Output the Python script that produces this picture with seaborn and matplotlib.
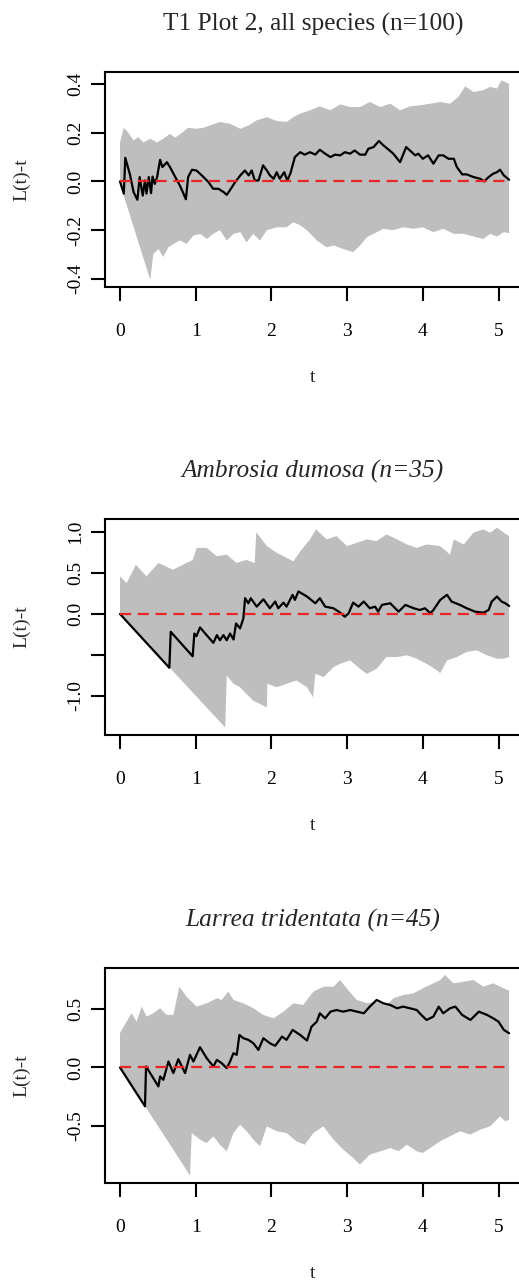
import numpy as np
import pandas as pd
import matplotlib
matplotlib.use('Agg')
import matplotlib.pyplot as plt
import seaborn as sns

# --- datos (t, L(t)-t y envolventes) ---

# Panel 1: T1 Plot 2, todas las especies
t1_obs = [0, 0.05, 0.07, 0.13, 0.18, 0.23, 0.26, 0.30, 0.33, 0.35,
          0.38, 0.41, 0.43, 0.46, 0.49, 0.53, 0.56, 0.62, 0.66, 0.73,
          0.79, 0.83, 0.87, 0.90, 0.95, 1.01, 1.08, 1.17, 1.23, 1.30,
          1.37, 1.41, 1.45, 1.52, 1.59, 1.65, 1.70, 1.74, 1.78, 1.83,
          1.89, 1.94, 1.98, 2.03, 2.07, 2.11, 2.17, 2.21, 2.25, 2.31,
          2.38, 2.44, 2.51, 2.58, 2.64, 2.71, 2.78, 2.84, 2.91, 2.97,
          3.04, 3.10, 3.17, 3.24, 3.28, 3.35, 3.42, 3.48, 3.55, 3.61,
          3.70, 3.78, 3.83, 3.90, 3.94, 4.00, 4.07, 4.14, 4.21, 4.27,
          4.34, 4.41, 4.45, 4.52, 4.58, 4.67, 4.76, 4.81, 4.87, 4.93,
          4.98, 5.02, 5.07, 5.14]
v1_obs = [0, -0.05, 0.097, 0.03, -0.044, -0.075, 0.018, -0.058, 0.004, -0.05,
          0.018, -0.048, 0.02, -0.01, 0.018, 0.089, 0.059, 0.079, 0.059, 0.018,
          -0.016, -0.044, -0.073, 0.018, 0.048, 0.045, 0.025, -0.003, -0.03, -0.03,
          -0.044, -0.055, -0.037, -0.003, 0.025, 0.045, 0.025, 0.045, 0.004, 0.004,
          0.066, 0.045, 0.025, 0.011, 0.038, 0.011, 0.038, 0.004, 0.032, 0.10,
          0.12, 0.11, 0.12, 0.11, 0.13, 0.114, 0.10, 0.11, 0.107, 0.12,
          0.114, 0.127, 0.11, 0.11, 0.134, 0.141, 0.166, 0.148, 0.13, 0.114,
          0.079, 0.141, 0.127, 0.107, 0.114, 0.093, 0.107, 0.073, 0.107, 0.107,
          0.093, 0.093, 0.059, 0.029, 0.029, 0.018, 0.011, 0.0, 0.018, 0.032,
          0.038, 0.048, 0.025, 0.007]
t1_hi = [0, 0.05, 0.11, 0.18, 0.24, 0.31, 0.40, 0.49, 0.57, 0.66,
         0.73, 0.82, 0.90, 1.01, 1.10, 1.19, 1.32, 1.45, 1.59, 1.70,
         1.80, 1.94, 2.07, 2.20, 2.29, 2.38, 2.51, 2.64, 2.78, 2.91,
         3.04, 3.17, 3.30, 3.44, 3.57, 3.70, 3.83, 3.96, 4.10, 4.23,
         4.36, 4.47, 4.56, 4.67, 4.80, 4.89, 4.98, 5.04, 5.14]
v1_hi = [0.16, 0.22, 0.20, 0.168, 0.182, 0.16, 0.175, 0.16, 0.175, 0.195,
         0.18, 0.20, 0.22, 0.216, 0.22, 0.23, 0.244, 0.237, 0.216, 0.23,
         0.25, 0.264, 0.248, 0.244, 0.264, 0.278, 0.292, 0.308, 0.292, 0.316,
         0.305, 0.305, 0.326, 0.305, 0.319, 0.292, 0.308, 0.312, 0.319, 0.326,
         0.319, 0.347, 0.39, 0.367, 0.374, 0.388, 0.381, 0.415, 0.40]
t1_lo = [0, 0.40, 0.44, 0.51, 0.57, 0.64, 0.71, 0.79, 0.88, 0.97,
         1.06, 1.15, 1.23, 1.32, 1.41, 1.50, 1.59, 1.67, 1.76, 1.85,
         1.94, 2.07, 2.20, 2.29, 2.38, 2.47, 2.60, 2.73, 2.82, 2.95,
         3.08, 3.17, 3.26, 3.35, 3.48, 3.61, 3.74, 3.88, 4.00, 4.14,
         4.27, 4.41, 4.54, 4.67, 4.80, 4.89, 4.98, 5.07, 5.14]
v1_lo = [-0.01, -0.404, -0.297, -0.277, -0.31, -0.27, -0.256, -0.242, -0.256, -0.222,
         -0.215, -0.236, -0.215, -0.20, -0.242, -0.215, -0.208, -0.25, -0.215, -0.242,
         -0.20, -0.188, -0.188, -0.167, -0.18, -0.20, -0.242, -0.27, -0.263, -0.277,
         -0.29, -0.263, -0.229, -0.215, -0.194, -0.20, -0.188, -0.194, -0.188, -0.208,
         -0.194, -0.215, -0.215, -0.226, -0.236, -0.215, -0.226, -0.208, -0.212]

# Panel 2: Ambrosia dumosa
t2_obs = [0, 0.652, 0.67, 0.96, 0.982, 1.01, 1.057, 1.233, 1.28, 1.32,
          1.366, 1.41, 1.454, 1.50, 1.533, 1.586, 1.63, 1.652, 1.696, 1.727,
          1.806, 1.894, 1.98, 2.05, 2.09, 2.16, 2.20, 2.28, 2.31, 2.357,
          2.47, 2.58, 2.64, 2.71, 2.82, 2.91, 2.97, 3.02, 3.08, 3.15,
          3.22, 3.30, 3.37, 3.41, 3.46, 3.57, 3.68, 3.77, 3.88, 3.96,
          4.03, 4.10, 4.14, 4.23, 4.32, 4.38, 4.49, 4.58, 4.69, 4.80,
          4.87, 4.91, 4.98, 5.04, 5.09, 5.14]
v2_obs = [0, -0.656, -0.217, -0.516, -0.238, -0.27, -0.164, -0.352, -0.258, -0.32,
          -0.258, -0.32, -0.238, -0.311, -0.115, -0.176, -0.053, 0.193, 0.131, 0.193,
          0.09, 0.18, 0.07, 0.152, 0.07, 0.139, 0.09, 0.234, 0.172, 0.275,
          0.213, 0.131, 0.193, 0.09, 0.07, 0.016, -0.033, 0.008, 0.139, 0.09,
          0.152, 0.07, 0.09, 0.029, 0.111, 0.131, 0.029, 0.111, 0.07, 0.049,
          0.07, 0.008, 0.049, 0.172, 0.234, 0.152, 0.111, 0.07, 0.029, 0.016,
          0.049, 0.152, 0.213, 0.152, 0.131, 0.098]
t2_hi = [0, 0.088, 0.21, 0.35, 0.507, 0.70, 0.88, 0.96, 1.013, 1.145,
         1.28, 1.41, 1.54, 1.67, 1.78, 1.80, 1.94, 2.07, 2.16, 2.29,
         2.40, 2.51, 2.59, 2.73, 2.86, 3.00, 3.13, 3.26, 3.39, 3.52,
         3.66, 3.79, 3.92, 4.05, 4.23, 4.36, 4.41, 4.54, 4.67, 4.80,
         4.89, 4.98, 5.07, 5.14]
v2_hi = [0.459, 0.377, 0.60, 0.46, 0.623, 0.54, 0.623, 0.66, 0.807, 0.807,
         0.705, 0.725, 0.623, 0.66, 0.62, 1.0, 0.828, 0.746, 0.705, 0.643,
         0.787, 0.91, 1.033, 0.91, 0.951, 0.828, 0.869, 0.91, 0.889, 0.971,
         0.91, 0.848, 0.807, 0.848, 0.828, 0.725, 0.91, 0.848, 0.992, 1.033,
         0.992, 1.053, 0.992, 0.951]
t2_lo = [0, 1.39, 1.41, 1.50, 1.586, 1.67, 1.76, 1.94, 1.947, 2.07,
         2.20, 2.33, 2.47, 2.55, 2.58, 2.69, 2.82, 2.91, 3.04, 3.17,
         3.26, 3.39, 3.52, 3.66, 3.79, 3.92, 4.05, 4.19, 4.23, 4.32,
         4.45, 4.58, 4.71, 4.85, 4.98, 5.07, 5.14]
v2_lo = [0, -1.385, -0.75, -0.852, -0.893, -0.975, -1.057, -1.139, -0.852, -0.893,
         -0.852, -0.811, -0.893, -1.016, -0.73, -0.77, -0.648, -0.607, -0.566, -0.668,
         -0.73, -0.668, -0.525, -0.525, -0.504, -0.545, -0.607, -0.689, -0.721, -0.566,
         -0.525, -0.463, -0.443, -0.504, -0.545, -0.545, -0.525]

# Panel 3: Larrea tridentata
t3_obs = [0, 0.33, 0.344, 0.507, 0.53, 0.573, 0.64, 0.705, 0.77, 0.86,
          0.925, 0.97, 1.057, 1.145, 1.233, 1.28, 1.343, 1.41, 1.454, 1.498,
          1.542, 1.577, 1.63, 1.696, 1.762, 1.828, 1.894, 1.98, 2.05, 2.14,
          2.20, 2.28, 2.38, 2.47, 2.53, 2.60, 2.64, 2.71, 2.78, 2.86,
          2.95, 3.04, 3.13, 3.22, 3.30, 3.39, 3.48, 3.57, 3.66, 3.74,
          3.83, 3.92, 3.98, 4.05, 4.14, 4.21, 4.27, 4.36, 4.43, 4.52,
          4.63, 4.74, 4.85, 4.93, 5.00, 5.07, 5.14]
v3_obs = [0, -0.332, 0.009, -0.162, -0.077, -0.105, 0.051, -0.048, 0.071, -0.048,
          0.108, 0.051, 0.173, 0.08, 0.009, 0.065, 0.037, -0.006, 0.051, 0.122,
          0.108, 0.278, 0.25, 0.236, 0.207, 0.15, 0.25, 0.207, 0.185, 0.264,
          0.236, 0.321, 0.278, 0.23, 0.349, 0.392, 0.463, 0.42, 0.477, 0.491,
          0.477, 0.491, 0.477, 0.463, 0.52, 0.577, 0.548, 0.534, 0.506, 0.52,
          0.506, 0.491, 0.449, 0.406, 0.435, 0.52, 0.463, 0.506, 0.52, 0.449,
          0.406, 0.477, 0.449, 0.42, 0.392, 0.321, 0.293]
t3_hi = [0, 0.035, 0.088, 0.154, 0.22, 0.286, 0.352, 0.44, 0.53, 0.617,
         0.705, 0.784, 0.88, 1.013, 1.145, 1.28, 1.344, 1.43, 1.50, 1.63,
         1.762, 1.894, 2.026, 2.16, 2.29, 2.42, 2.555, 2.687, 2.82, 2.907,
         2.995, 3.128, 3.26, 3.39, 3.52, 3.61, 3.74, 3.876, 4.0, 4.14,
         4.23, 4.295, 4.405, 4.537, 4.67, 4.80, 4.93, 5.07, 5.14]
v3_hi = [0.293, 0.335, 0.392, 0.463, 0.392, 0.52, 0.435, 0.463, 0.506, 0.449,
         0.449, 0.69, 0.605, 0.52, 0.548, 0.591, 0.577, 0.648, 0.577, 0.548,
         0.506, 0.449, 0.42, 0.477, 0.548, 0.534, 0.648, 0.69, 0.69, 0.747,
         0.676, 0.577, 0.55, 0.56, 0.53, 0.59, 0.619, 0.634, 0.676, 0.719,
         0.747, 0.79, 0.719, 0.733, 0.747, 0.69, 0.719, 0.676, 0.656]
t3_lo = [0, 0.925, 0.947, 1.057, 1.145, 1.233, 1.32, 1.41, 1.498, 1.586,
         1.674, 1.762, 1.85, 1.94, 2.07, 2.20, 2.33, 2.44, 2.555, 2.687,
         2.82, 2.95, 3.08, 3.17, 3.30, 3.44, 3.57, 3.68, 3.79, 3.92,
         4.0, 4.10, 4.23, 4.36, 4.493, 4.626, 4.76, 4.89, 5.02, 5.09, 5.14]
v3_lo = [0, -0.923, -0.56, -0.616, -0.645, -0.588, -0.66, -0.716, -0.56, -0.489,
         -0.545, -0.616, -0.673, -0.503, -0.545, -0.56, -0.63, -0.66, -0.56, -0.503,
         -0.616, -0.702, -0.773, -0.83, -0.744, -0.716, -0.688, -0.716, -0.66, -0.716,
         -0.73, -0.688, -0.63, -0.588, -0.545, -0.574, -0.531, -0.503, -0.418, -0.46, -0.446]

titulos = ['T1 Plot 2, all species (n=100)', 'Ambrosia dumosa (n=35)', 'Larrea tridentata (n=45)']
xticks = [0, 1, 2, 3, 4, 5]
yticks = [[-0.4, -0.2, 0.0, 0.2, 0.4], [-1.0, -0.5, 0.0, 0.5, 1.0], [-0.5, 0.0, 0.5]]
yticklabels = [['-0.4', '-0.2', '0.0', '0.2', '0.4'], ['-1.0', '', '0.0', '0.5', '1.0'], ['-0.5', '0.0', '0.5']]

sns.set_style('ticks')
plt.rcParams['font.family'] = ['Liberation Serif', 'DejaVu Serif']

W, H = 519, 1284
fig = plt.figure(figsize=(W / 100, H / 100), dpi=100)

# cajas de los paneles en pixeles (arriba, abajo) y limites en y
cajas = [(72, 287), (519, 735), (968, 1183)]
ylims = [(-0.433, 0.449), (-1.476, 1.159), (-0.987, 0.85)]
estilos = ['normal', 'italic', 'italic']
series = [(t1_obs, v1_obs, t1_hi, v1_hi, t1_lo, v1_lo),
          (t2_obs, v2_obs, t2_hi, v2_hi, t2_lo, v2_lo),
          (t3_obs, v3_obs, t3_hi, v3_hi, t3_lo, v3_lo)]

px_por_t = 75.7  # px por unidad de t, t=0 en x=120


def panel(i):
    top, bot = cajas[i]
    t_obs, v_obs, t_hi, v_hi, t_lo, v_lo = series[i]
    ax = fig.add_axes([105 / W, 1 - bot / H, 420 / W, (bot - top) / H])

    # banda de simulacion (gris)
    xs = np.concatenate([t_hi, t_lo[::-1]])
    ys = np.concatenate([v_hi, v_lo[::-1]])
    ax.fill(xs, ys, color='#bebebe', lw=0, zorder=1)

    df = pd.DataFrame({'t': t_obs, 'L': v_obs})
    sns.lineplot(data=df, x='t', y='L', ax=ax, color='black', lw=1.6,
                 estimator=None, sort=False, zorder=3)
    sns.lineplot(x=[t_obs[0], t_obs[-1]], y=[0, 0], ax=ax, color='#e8262a',
                 lw=1.6, estimator=None, zorder=4)
    ax.lines[-1].set_linestyle((0, (5, 3)))

    ax.set_xlim(-15 / px_por_t, 405 / px_por_t)
    ax.set_ylim(*ylims[i])
    ax.set_xticks(xticks)
    ax.set_xticklabels([str(x) for x in xticks])
    ax.set_yticks(yticks[i])
    ax.set_yticklabels(yticklabels[i], rotation=90, va='center')
    ax.set_xlabel('')
    ax.set_ylabel('')
    for s in ax.spines.values():
        s.set_visible(True)
        s.set_linewidth(1.5)
        s.set_color('black')
    ax.tick_params(direction='out', length=10, width=1.5, labelsize=14,
                   colors='black', bottom=True, left=True)
    ax.tick_params(axis='x', pad=16)
    ax.tick_params(axis='y', pad=5)

    fig.text(313 / W, 1 - (top - 41.5) / H, titulos[i], ha='center', va='baseline',
             fontsize=18.3, style=estilos[i])
    fig.text(313 / W, 1 - (bot + 95) / H, 't', ha='center', va='baseline', fontsize=14)
    fig.text(22 / W, 1 - (top + bot) / 2 / H, 'L(t)-t', rotation=90, ha='center',
             va='center', fontsize=14)


for i in range(3):
    panel(i)

fig.savefig('out.png', dpi=100)
